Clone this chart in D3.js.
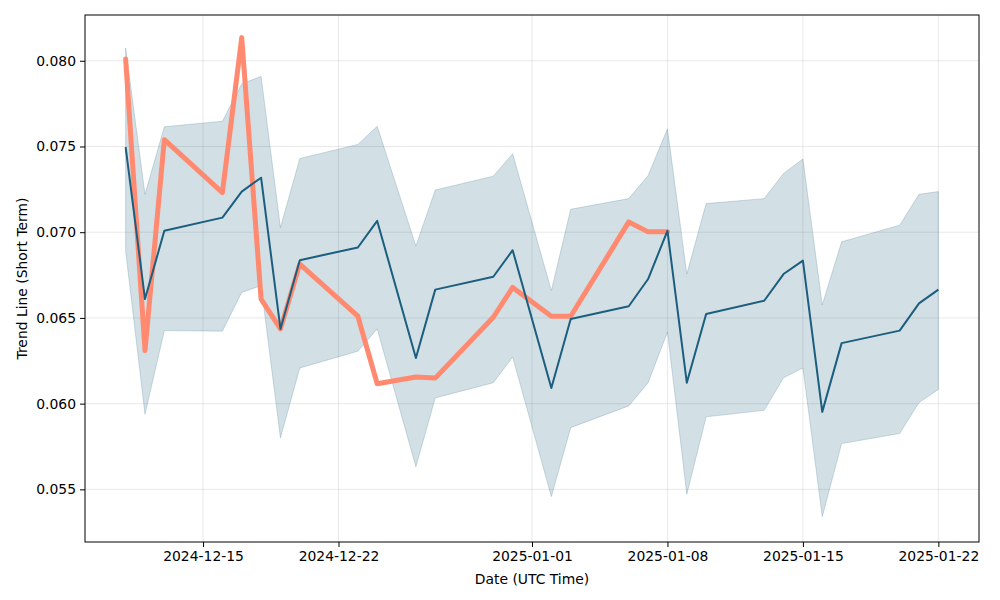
<!DOCTYPE html>
<html>
<head>
<meta charset="utf-8">
<script src="https://cdn.jsdelivr.net/npm/d3@7"></script>
<style>
  body { margin: 0; background: #fff; }
  text { font-family: "DejaVu Sans", sans-serif; }
</style>
</head>
<body>
<div id="chart"></div>
<script>
let margin = { top: 15, right: 21, bottom: 58, left: 85 };
let width = 1000 - margin.left - margin.right;
let height = 600 - margin.top - margin.bottom;

// trading days
let dates = ["2024-12-11","2024-12-12","2024-12-13","2024-12-16","2024-12-17","2024-12-18","2024-12-19","2024-12-20",
  "2024-12-23","2024-12-24","2024-12-26","2024-12-27","2024-12-30","2024-12-31","2025-01-02","2025-01-03",
  "2025-01-06","2025-01-07","2025-01-08","2025-01-09","2025-01-10","2025-01-13","2025-01-14","2025-01-15",
  "2025-01-16","2025-01-17","2025-01-20","2025-01-21","2025-01-22"];

let trend = [0.07496,0.0661,0.07008,0.07085,0.07237,0.07318,0.06436,0.06837,
  0.06911,0.07066,0.06266,0.06665,0.0674,0.06895,0.06091,0.06494,
  0.06568,0.06727,0.07008,0.06122,0.06523,0.0660,0.06756,0.06834,
  0.05952,0.06353,0.06426,0.06585,0.06665];

let upper = [0.08074,0.07221,0.07615,0.07647,0.07866,0.07909,0.07027,0.0743,
  0.07512,0.07618,0.0692,0.07246,0.07327,0.07458,0.06659,0.07134,
  0.07196,0.07331,0.07603,0.06756,0.07167,0.07196,0.07343,0.07427,
  0.06576,0.06944,0.07041,0.07221,0.07237];

let lower = [0.06891,0.05938,0.06426,0.06423,0.06649,0.06688,0.0580,0.06208,
  0.06306,0.06436,0.05632,0.06033,0.06122,0.06272,0.05458,0.0586,
  0.05987,0.06122,0.06417,0.05471,0.05923,0.05961,0.06151,0.06208,
  0.05341,0.05767,0.05826,0.06006,0.06083];

// actual value, only up to 2025-01-08
let actual = [0.0801,0.0631,0.0754,0.07231,0.08135,0.0661,0.06436,0.06814,
  0.0651,0.06116,0.06155,0.06149,0.06504,0.06678,0.0651,0.0651,
  0.0706,0.07002,0.07002];

let tickDates = ["2024-12-15","2024-12-22","2025-01-01","2025-01-08","2025-01-15","2025-01-22"];
let yTicks = [0.055,0.060,0.065,0.070,0.075,0.080];

let parse = d3.utcParse("%Y-%m-%d");
let fmt = d3.utcFormat("%Y-%m-%d");

let rows = dates.map((d, i) => ({ date: parse(d), trend: trend[i], upper: upper[i], lower: lower[i], actual: i < actual.length ? actual[i] : null }));

let t0 = parse(dates[0]).getTime(), t1 = parse(dates[dates.length - 1]).getTime();
let pad = (t1 - t0) * 0.05;
let x = d3.scaleUtc().domain([new Date(t0 - pad), new Date(t1 + pad)]).range([0, width]);
let y = d3.scaleLinear().domain([0.05193, 0.08267]).range([height, 0]);

var svg = d3.select("#chart").append("svg")
  .attr("width", 1000).attr("height", 600);
var g = svg.append("g").attr("transform", "translate(" + margin.left + "," + margin.top + ")");

// grid
g.append("g").selectAll("line").data(yTicks).enter().append("line")
  .attr("x1", 0).attr("x2", width)
  .attr("y1", d => y(d)).attr("y2", d => y(d))
  .attr("stroke", "#b0b0b0").attr("stroke-opacity", 0.35).attr("stroke-width", 0.8);
g.append("g").selectAll("line").data(tickDates).enter().append("line")
  .attr("y1", 0).attr("y2", height)
  .attr("x1", d => x(parse(d))).attr("x2", d => x(parse(d)))
  .attr("stroke", "#b0b0b0").attr("stroke-opacity", 0.35).attr("stroke-width", 0.8);

// band
var area = d3.area().x(d => x(d.date)).y0(d => y(d.lower)).y1(d => y(d.upper));
g.append("path").datum(rows).attr("d", area)
  .attr("fill", "#1f5f7f").attr("fill-opacity", 0.2)
  .attr("stroke", "#1f5f7f").attr("stroke-opacity", 0.2).attr("stroke-width", 1);

// actual
var lineA = d3.line().defined(d => d.actual != null).x(d => x(d.date)).y(d => y(d.actual));
g.append("path").datum(rows).attr("d", lineA)
  .attr("fill", "none").attr("stroke", "#ff8a70").attr("stroke-width", 5)
  .attr("stroke-linejoin", "round").attr("stroke-linecap", "round");

// trend
var lineT = d3.line().x(d => x(d.date)).y(d => y(d.trend));
g.append("path").datum(rows).attr("d", lineT)
  .attr("fill", "none").attr("stroke", "#1b5e7e").attr("stroke-width", 2)
  .attr("stroke-linejoin", "round");

// axes
var xAxis = g.append("g").attr("transform", "translate(0," + height + ")")
  .call(d3.axisBottom(x).tickValues(tickDates.map(parse)).tickFormat(fmt).tickSize(5).tickPadding(4));
var yAxis = g.append("g")
  .call(d3.axisLeft(y).tickValues(yTicks).tickFormat(d3.format(".3f")).tickSize(5).tickPadding(4));
[xAxis, yAxis].forEach(a => {
  a.select(".domain").remove();
  a.selectAll("text").attr("font-size", "13.9px").attr("fill", "#000").style("font-family", "DejaVu Sans");
  a.selectAll("line").attr("stroke", "#000");
});

g.append("rect").attr("width", width).attr("height", height)
  .attr("fill", "none").attr("stroke", "#000").attr("stroke-width", 1);

g.append("text").attr("x", width / 2).attr("y", height + 42)
  .attr("text-anchor", "middle").attr("font-size", "13.9px").text("Date (UTC Time)");
g.append("text").attr("transform", "rotate(-90)")
  .attr("x", -height / 2).attr("y", -58)
  .attr("text-anchor", "middle").attr("font-size", "13.9px").text("Trend Line (Short Term)");
</script>
</body>
</html>
